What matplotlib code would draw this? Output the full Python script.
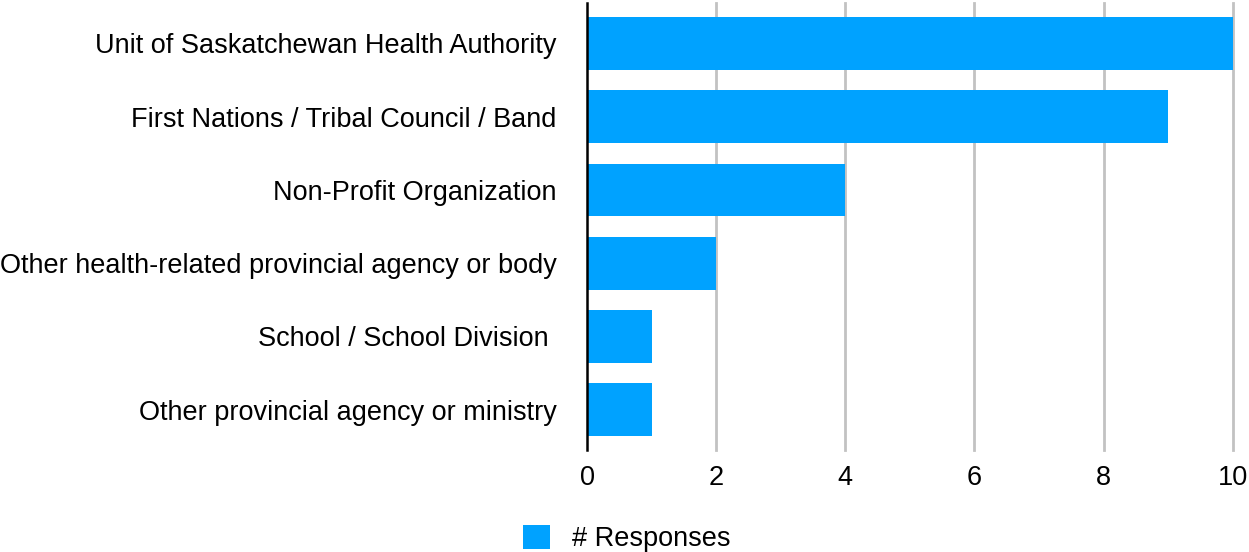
import matplotlib.pyplot as plt
from matplotlib.patches import Patch

# Organization types and number of survey responses
categories = [
    'Unit of Saskatchewan Health Authority',
    'First Nations / Tribal Council / Band',
    'Non-Profit Organization',
    'Other health-related provincial agency or body',
    'School / School Division ',
    'Other provincial agency or ministry',
]
responses = [10, 9, 4, 2, 1, 1]
xticks = [0, 2, 4, 6, 8, 10]

BAR_COLOR = '#00a2ff'
GRID_COLOR = '#c2c2c2'
FS = 19.5

plt.rcParams['font.family'] = ['Liberation Sans', 'DejaVu Sans']

fig = plt.figure(figsize=(12.49, 5.52), dpi=100)
ax = fig.add_axes([0.470, 0.185, 0.517, 0.8096])

pos = range(len(categories))
ax.barh(pos, responses, height=0.72, color=BAR_COLOR, zorder=3)

ax.set_ylim(len(categories) - 0.45, -0.553)
ax.set_xlim(0, 10)
ax.set_yticks(list(pos))
ax.set_yticklabels(categories, fontsize=FS)
ax.set_xticks(xticks)
ax.set_xticklabels([str(t) for t in xticks], fontsize=FS)
ax.tick_params(axis='both', length=0)
ax.tick_params(axis='y', pad=22)
ax.tick_params(axis='x', pad=11)

# vertical grid only, the zero line is the axis spine
for t in xticks[1:]:
    ax.axvline(t, color=GRID_COLOR, lw=2, zorder=1, clip_on=False)

for side in ['top', 'right', 'bottom']:
    ax.spines[side].set_visible(False)
ax.spines['left'].set_color('black')
ax.spines['left'].set_linewidth(1.8)
ax.spines['left'].set_zorder(4)

handle = Patch(facecolor=BAR_COLOR, edgecolor='none', label='# Responses')
fig.legend(handles=[handle], loc='lower center', bbox_to_anchor=(0.502, -0.045),
           frameon=False, fontsize=FS, handlelength=1.0, handleheight=1.0,
           handletextpad=0.8)

fig.savefig('out.png', dpi=100)
